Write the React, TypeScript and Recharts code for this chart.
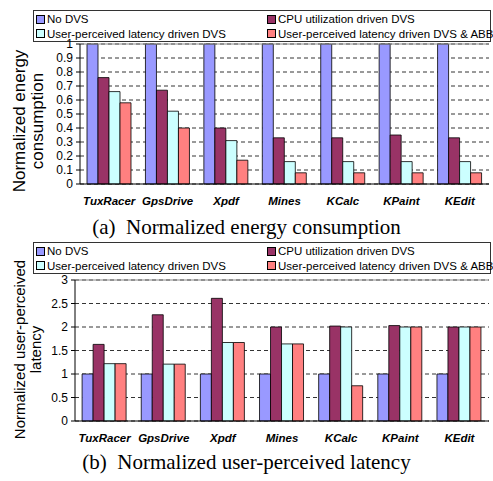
import React from 'react';
import { BarChart, Bar, XAxis, YAxis, CartesianGrid, ReferenceLine } from 'recharts';

const apps = ['TuxRacer', 'GpsDrive', 'Xpdf', 'Mines', 'KCalc', 'KPaint', 'KEdit'];

const seriesNames = [
  'No DVS',
  'CPU utilization driven DVS',
  'User-perceived latency driven DVS',
  'User-perceived latency driven DVS & ABB',
];
const seriesColors = ['#9999FF', '#993366', '#CCFFFF', '#FF8080'];

// (a) normalized energy
const energyNoDvs = [1, 1, 1, 1, 1, 1, 1];
const energyCpu = [0.76, 0.67, 0.4, 0.33, 0.33, 0.35, 0.33];
const energyUpl = [0.66, 0.52, 0.31, 0.16, 0.16, 0.16, 0.16];
const energyUplAbb = [0.58, 0.4, 0.17, 0.08, 0.08, 0.08, 0.08];
const energyTicks = [0, 0.1, 0.2, 0.3, 0.4, 0.5, 0.6, 0.7, 0.8, 0.9, 1];

// (b) normalized latency
const latNoDvs = [1, 1, 1, 1, 1, 1, 1];
const latCpu = [1.63, 2.26, 2.61, 2.0, 2.02, 2.03, 2.0];
const latUpl = [1.22, 1.21, 1.67, 1.64, 2.0, 2.0, 2.0];
const latUplAbb = [1.22, 1.21, 1.67, 1.64, 0.75, 2.0, 2.0];
const latTicks = [0, 0.5, 1, 1.5, 2, 2.5, 3];

const boundaryTicks = [0, 1, 2, 3, 4, 5, 6, 7];

const FONT = 'Arial, "Liberation Sans", sans-serif';
const SERIF = '"Times New Roman", "Liberation Serif", serif';

function buildRows(cols: number[][]) {
  return apps.map((name, i) => ({ name, s0: cols[0][i], s1: cols[1][i], s2: cols[2][i], s3: cols[3][i] }));
}

const energyData = buildRows([energyNoDvs, energyCpu, energyUpl, energyUplAbb]);
const latData = buildRows([latNoDvs, latCpu, latUpl, latUplAbb]);

function LegendBox({ top }: { top: number }) {
  const item = (i: number) => (
    <div style={{ display: 'flex', alignItems: 'center', height: 14, whiteSpace: 'nowrap' }}>
      <span style={{ width: 7, height: 7, border: '1px solid #000', background: seriesColors[i], marginRight: 2, flex: 'none' }} />
      <span>{seriesNames[i]}</span>
    </div>
  );
  return (
    <div style={{
      position: 'absolute', left: 33, top, width: 458, height: 32, border: '1px solid #333',
      boxSizing: 'border-box', fontFamily: FONT, fontSize: 11.5, color: '#000', background: '#fff',
      display: 'grid', gridTemplateColumns: '231px 1fr', paddingLeft: 2, paddingTop: 1, lineHeight: '14px',
    }}>
      {item(0)}{item(1)}{item(2)}{item(3)}
    </div>
  );
}

const yLabel = (lines: string[], size: number, shift: number) => (props: any) => {
  const vb = props.viewBox;
  const cy = vb.y + vb.height / 2 + shift;
  return (
    <text transform={`translate(25, ${cy}) rotate(-90)`} textAnchor="middle" fontSize={size} fontFamily={FONT} fill="#000">
      <tspan x={0} dy={0}>{lines[0]}</tspan>
      <tspan x={0} dy={size + 1}>{lines[1]}</tspan>
    </text>
  );
};

// room above the plot so the rotated axis title is not clipped by the svg
const PAD = 30;

function Panel({ data, ticks, max, yWidth, plotH, label, labelSize, labelShift }: {
  data: any[]; ticks: number[]; max: number; yWidth: number; plotH: number; label: string[]; labelSize: number; labelShift: number;
}) {
  return (
    <BarChart width={489} height={plotH + PAD + 26} data={data} margin={{ top: PAD, right: 0, bottom: 0, left: 0 }}
      barGap={0} barCategoryGap="12%">
      <CartesianGrid vertical={false} stroke="#000" strokeDasharray="4 3" strokeWidth={0.8} />
      <XAxis xAxisId="b" type="number" domain={[0, 7]} ticks={boundaryTicks} height={0}
        tickFormatter={() => ''} axisLine={false} tickLine={{ stroke: '#000' }} tickSize={4} allowDataOverflow />
      <XAxis dataKey="name" height={26} axisLine={{ stroke: '#000' }} tickLine={false} interval={0}
        tick={{ fontSize: 11.5, fontWeight: 'bold', fontStyle: 'italic', fill: '#000', fontFamily: FONT }} tickMargin={7} />
      <YAxis domain={[0, max]} ticks={ticks} width={yWidth} interval={0} axisLine={{ stroke: '#000' }}
        tickLine={{ stroke: '#000' }} tickSize={4} tickMargin={3}
        tick={{ fontSize: 12, fill: '#000', fontFamily: FONT }} label={{ content: yLabel(label, labelSize, labelShift) }} />
      <ReferenceLine y={max} stroke="#888" strokeWidth={1} />
      <ReferenceLine xAxisId="b" x={7} stroke="#888" strokeWidth={1} />
      {seriesNames.map((n, i) => (
        <Bar key={n} dataKey={`s${i}`} name={n} fill={seriesColors[i]} stroke="#000" strokeWidth={0.8} isAnimationActive={false} />
      ))}
    </BarChart>
  );
}

export default function App() {
  return (
    <div style={{ position: 'absolute', left: 0, top: 0, width: 493, height: 481, background: '#fff', overflow: 'hidden' }}>
      <LegendBox top={10} />
      <div style={{ position: 'absolute', left: 0, top: 44 - PAD }}>
        <Panel data={energyData} ticks={energyTicks} max={1} yWidth={80} plotH={140}
          label={['Normalized energy', 'consumption']} labelSize={17} labelShift={7} />
      </div>
      <div style={{ position: 'absolute', left: 0, top: 215, width: 493, textAlign: 'center', fontFamily: SERIF, fontSize: 21 }}>
        (a)&nbsp; Normalized energy consumption
      </div>
      <LegendBox top={242} />
      <div style={{ position: 'absolute', left: 0, top: 280 - PAD }}>
        <Panel data={latData} ticks={latTicks} max={3} yWidth={75} plotH={141}
          label={['Normalized user-perceived', 'latency']} labelSize={15} labelShift={-1} />
      </div>
      <div style={{ position: 'absolute', left: 0, top: 450, width: 493, textAlign: 'center', fontFamily: SERIF, fontSize: 21 }}>
        (b)&nbsp; Normalized user-perceived latency
      </div>
    </div>
  );
}
